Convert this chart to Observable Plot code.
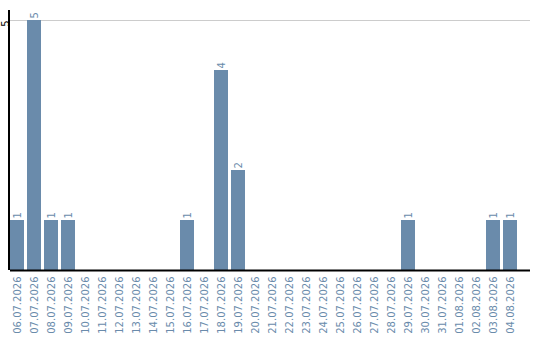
<!DOCTYPE html>
<html>
<head>
<meta charset="utf-8">
<script src="https://cdn.jsdelivr.net/npm/d3@7"></script>
<script src="https://cdn.jsdelivr.net/npm/@observablehq/plot@0.6"></script>
<style>
  html, body { margin: 0; padding: 0; background: #fff; }
  #chart svg { display: block; }
</style>
</head>
<body>
<div id="chart"></div>
<script>
// Daily counts, one entry per calendar day
const dates = [
  "06.07.2026", "07.07.2026", "08.07.2026", "09.07.2026", "10.07.2026",
  "11.07.2026", "12.07.2026", "13.07.2026", "14.07.2026", "15.07.2026",
  "16.07.2026", "17.07.2026", "18.07.2026", "19.07.2026", "20.07.2026",
  "21.07.2026", "22.07.2026", "23.07.2026", "24.07.2026", "25.07.2026",
  "26.07.2026", "27.07.2026", "28.07.2026", "29.07.2026", "30.07.2026",
  "31.07.2026", "01.08.2026", "02.08.2026", "03.08.2026", "04.08.2026"
];
const counts = [
  1, 5, 1, 1, 0,
  0, 0, 0, 0, 0,
  1, 0, 4, 2, 0,
  0, 0, 0, 0, 0,
  0, 0, 0, 1, 0,
  0, 0, 0, 1, 1
];
const yTicks = [5];

const rows = dates.map((date, i) => ({date, count: counts[i]}));
const barColor = "#6a8bab";
const font = "DejaVu Sans, sans-serif";

const chart = Plot.plot({
  width: 540,
  height: 340,
  marginLeft: 10,
  marginRight: 23,
  marginTop: 10,
  marginBottom: 70,
  style: {fontFamily: font, fontSize: "10px", background: "#fff"},
  x: {domain: dates, paddingInner: 3 / 17, paddingOuter: 0, align: 0, round: false, label: null},
  y: {domain: [0, 5.2], label: null, axis: null},
  marks: [
    Plot.ruleY(yTicks, {stroke: "#cccccc", strokeWidth: 1, insetRight: -13}),
    Plot.barY(rows, {x: "date", y: "count", fill: barColor}),
    Plot.text(rows.filter(d => d.count > 0), {
      x: "date", y: "count", text: d => String(d.count),
      rotate: -90, textAnchor: "start", dy: -2, fill: barColor, fontSize: 10
    }),
    Plot.axisX({tickRotate: -90, tickSize: 0, tickPadding: 6, fill: barColor, fontSize: 10, label: null}),
    Plot.text(yTicks, {
      y: d => d, text: d => String(d), frameAnchor: "left", dx: -5, dy: 3,
      textAnchor: "middle", rotate: -90, fill: "#000", fontSize: 10
    }),
    Plot.ruleY([0], {stroke: "#000", strokeWidth: 2, insetRight: -13}),
    Plot.ruleX([0], {x: () => dates[0], dx: -8.5, stroke: "#000", strokeWidth: 2, y1: 0, y2: 5.2})
  ]
});
document.getElementById("chart").appendChild(chart);
</script>
</body>
</html>
